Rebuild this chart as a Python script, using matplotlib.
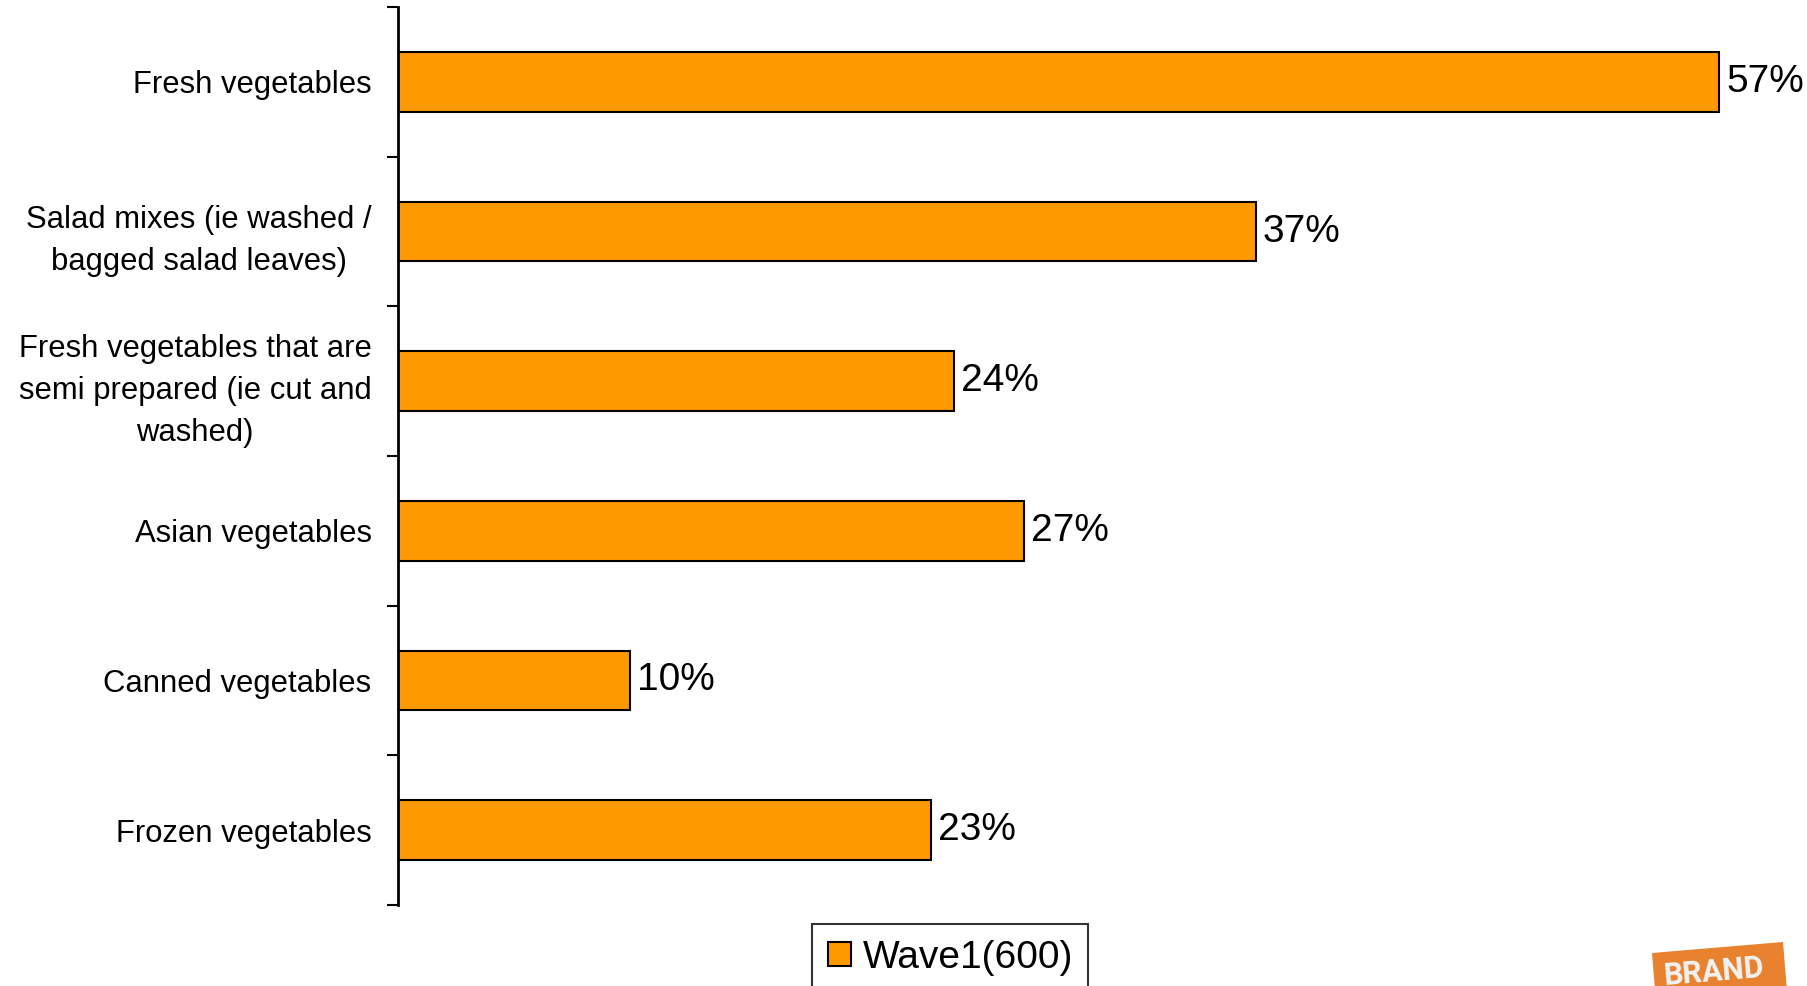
import matplotlib.pyplot as plt
from matplotlib.patches import Patch, Polygon
import numpy as np

plt.rcParams['font.family'] = ['Liberation Sans', 'DejaVu Sans']

categories = [
    'Fresh vegetables',
    'Salad mixes (ie washed /\nbagged salad leaves)',
    'Fresh vegetables that are\nsemi prepared (ie cut and\nwashed)',
    'Asian vegetables',
    'Canned vegetables',
    'Frozen vegetables',
]
values = [57, 37, 24, 27, 10, 23]
series_name = 'Wave1(600)'

bar_color = '#FF9900'

W, H = 1808, 986
fig = plt.figure(figsize=(W / 100, H / 100), dpi=100)
ax = fig.add_axes([398 / W, 1 - 905 / H, (1789 - 398) / W, (905 - 7) / H])

y = np.arange(len(categories))
bars = ax.barh(y, values, height=0.4, color=bar_color, edgecolor='black', linewidth=1.5)

for b, v in zip(bars, values):
    ax.annotate(f'{v}%', (b.get_width(), b.get_y() + b.get_height() / 2),
                xytext=(5, 0), textcoords='offset points',
                ha='left', va='center', fontsize=28)

ax.set_xlim(0, 60)
ax.set_ylim(len(categories) - 0.5, -0.5)

# tick marks sit between the categories, labels at the bar centres
ax.set_yticks(np.arange(-0.5, len(categories)))
ax.set_yticklabels([])
ax.tick_params(axis='y', which='major', length=8, width=1.5, direction='out')
ax.set_yticks(y, minor=True)
ax.set_yticklabels(categories, minor=True, fontsize=22.3, multialignment='center',
                   linespacing=1.52)
ax.tick_params(axis='y', which='minor', length=0, pad=19)
ax.set_xticks([])

for s in ['top', 'right', 'bottom']:
    ax.spines[s].set_visible(False)
ax.spines['left'].set_linewidth(2)

leg = fig.legend(handles=[Patch(facecolor=bar_color, edgecolor='black', linewidth=1.5, label=series_name)],
                 loc='upper left', bbox_to_anchor=(812 / W, 1 - 924 / H), borderaxespad=0,
                 fontsize=28, frameon=True, fancybox=False, edgecolor='black',
                 handlelength=0.6, handleheight=0.6, handletextpad=0.3, borderpad=0.4)
leg.get_frame().set_linewidth(1.5)

# brand tag in the lower right corner
corners = [(1652, 953), (1783, 942), (1791, 1040), (1660, 1051)]
fig.patches.append(Polygon([(px / W, 1 - py / H) for px, py in corners],
                           closed=True, facecolor='#E8822F', edgecolor='none',
                           transform=fig.transFigure))
fig.text(1714 / W, 1 - 972 / H, 'BRAND', color='#F2F2F2', fontsize=22, fontweight='bold',
         family='Roboto', rotation=4.8, ha='center', va='center')

fig.savefig('out.png', dpi=100)
